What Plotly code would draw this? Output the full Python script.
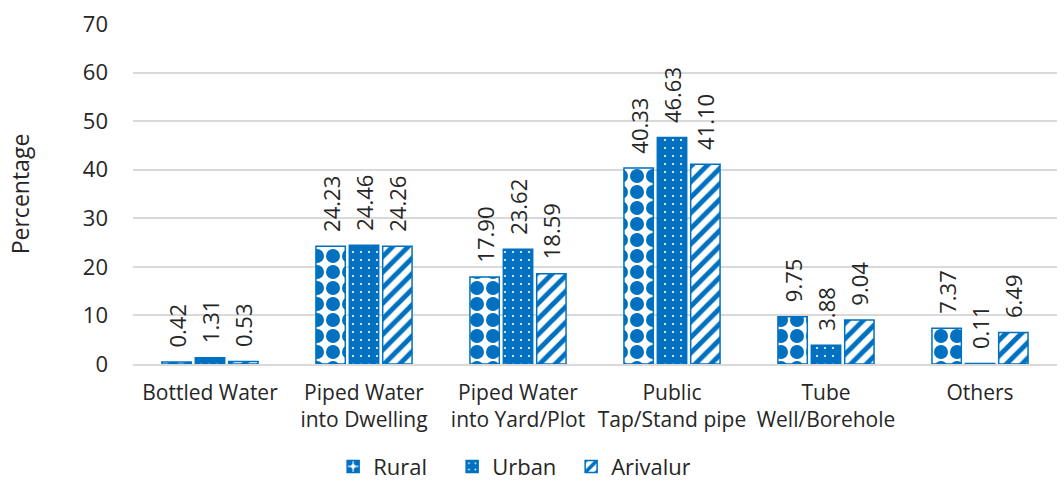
import plotly.graph_objects as go

categories = ["Bottled Water", "Piped Water<br>into Dwelling", "Piped Water<br>into Yard/Plot",
              "Public<br>Tap/Stand pipe", "Tube<br>Well/Borehole", "Others"]
rural = [0.42, 24.23, 17.90, 40.33, 9.75, 7.37]
urban = [1.31, 24.46, 23.62, 46.63, 3.88, 0.11]
arivalur = [0.53, 24.26, 18.59, 41.10, 9.04, 6.49]
y_ticks = [0, 10, 20, 30, 40, 50, 60, 70]

BLUE = "#0070C0"
FONT = "Open Sans"
TXT = "#262626"
FS = 20
PAD = "\u00a0\u00a0"  # gap between bar top and its rotated value label

series = [
    ("Rural", rural, dict(shape=".", fgcolor=BLUE, bgcolor="white", size=16, solidity=0.6, fillmode="replace")),
    ("Urban", urban, dict(shape=".", fgcolor="white", bgcolor=BLUE, size=8, solidity=0.06, fillmode="replace")),
    ("Arivalur", arivalur, dict(shape="/", fgcolor=BLUE, bgcolor="white", size=11, solidity=0.45, fillmode="replace")),
]

fig = go.Figure()
for name, vals, pat in series:
    fig.add_trace(go.Bar(
        name=name, x=categories, y=vals,
        marker=dict(color="white", pattern=pat, line=dict(color=BLUE, width=1.5)),
        text=[f"{PAD}{v:.2f}" for v in vals], textposition="outside", textangle=-90,
        constraintext="none",
        textfont=dict(family=FONT, size=22, color=TXT), cliponaxis=False,
    ))

fig.update_layout(
    width=1064, height=483,
    margin=dict(l=133, r=7, t=24, b=119, autoexpand=False),
    paper_bgcolor="white", plot_bgcolor="white",
    barmode="group", bargap=0.35, bargroupgap=0.12,
    font=dict(family=FONT, size=FS, color=TXT),
    showlegend=True,
    legend=dict(orientation="h", x=0.2166, xanchor="left", y=-0.24, yanchor="top",
                font=dict(family=FONT, size=22, color=TXT), itemwidth=30,
                entrywidth=74, entrywidthmode="pixels"),
    xaxis=dict(showgrid=False, showline=True, linecolor="#D9D9D9", linewidth=1.5,
               ticks="", automargin=False, ticklabelstandoff=9,
               tickfont=dict(family=FONT, size=21, color=TXT)),
    yaxis=dict(range=[0, 70], tickvals=y_ticks, showgrid=True, gridcolor="#D9D9D9",
               gridwidth=1.5, zeroline=False, ticks="", ticklabelstandoff=24, automargin=False,
               tickfont=dict(family=FONT, size=22, color=TXT),
               title=dict(text="Percentage", font=dict(family=FONT, size=23, color=TXT), standoff=46)),
)

fig.write_html("out.html")
